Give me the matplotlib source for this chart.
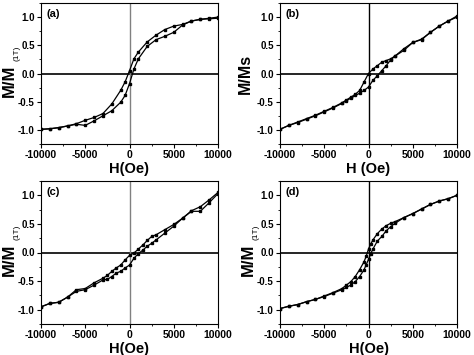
import numpy as np
import matplotlib
matplotlib.use('Agg')
import matplotlib.pyplot as plt
from matplotlib.ticker import MultipleLocator

plt.rcParams['font.family'] = ['Liberation Sans', 'DejaVu Sans']
plt.rcParams['font.weight'] = 'bold'

# field values (Oe) for the two branches
H_down = [10000, 9000, 8000, 7000, 6000, 5000, 4000, 3000, 2000, 1000, 500,
          0, -500, -1000, -2000, -3000, -4000, -5000, -6000, -7000, -8000,
          -9000, -10000]
H_up = H_down[::-1]

# (a)
a_down = [1.00, 0.98, 0.96, 0.93, 0.87, 0.84, 0.78, 0.68, 0.56, 0.38, 0.26,
          0.05, -0.15, -0.30, -0.54, -0.71, -0.78, -0.83, -0.89, -0.93,
          -0.96, -0.98, -0.99]
a_up = [-0.99, -0.98, -0.96, -0.93, -0.90, -0.92, -0.84, -0.75, -0.66,
        -0.51, -0.39, -0.18, 0.08, 0.26, 0.48, 0.60, 0.66, 0.73, 0.86, 0.93,
        0.96, 0.97, 0.98]

# (b)
H_b = [10000, 9000, 8000, 7000, 6000, 5000, 4000, 3000, 2500, 2000, 1500,
       1000, 500, 0, -500, -1000, -1500, -2000, -2500, -3000, -4000, -5000,
       -6000, -7000, -8000, -9000, -10000]
b_down = [1.02, 0.93, 0.84, 0.73, 0.60, 0.55, 0.44, 0.31, 0.26, 0.23, 0.20,
          0.14, 0.08, 0.00, -0.15, -0.30, -0.37, -0.42, -0.47, -0.52, -0.60,
          -0.67, -0.74, -0.80, -0.86, -0.92, -0.99]
b_up = [-0.99, -0.92, -0.87, -0.81, -0.75, -0.68, -0.61, -0.53, -0.48,
        -0.44, -0.39, -0.35, -0.30, -0.24, -0.12, -0.04, 0.05, 0.14, 0.24,
        0.31, 0.41, 0.55, 0.61, 0.73, 0.84, 0.93, 1.00]

# (c)
H_c = [10000, 9000, 8000, 7000, 6000, 5000, 4000, 3000, 2500, 2000, 1500,
       1000, 500, 0, -500, -1000, -1500, -2000, -2500, -3000, -4000, -5000,
       -6000, -7000, -8000, -9000, -10000]
c_down = [1.05, 0.92, 0.80, 0.73, 0.60, 0.49, 0.40, 0.31, 0.28, 0.21, 0.13,
          0.06, -0.01, -0.05, -0.13, -0.22, -0.27, -0.33, -0.40, -0.45,
          -0.53, -0.63, -0.65, -0.78, -0.87, -0.89, -0.95]
c_up = [-0.95, -0.89, -0.87, -0.78, -0.68, -0.65, -0.57, -0.48, -0.47,
        -0.42, -0.36, -0.33, -0.27, -0.22, -0.10, -0.02, 0.04, 0.11, 0.16,
        0.22, 0.34, 0.46, 0.60, 0.72, 0.72, 0.87, 1.03]

# (d)
H_d = [10000, 9000, 8000, 7000, 6000, 5000, 4000, 3000, 2500, 2000, 1500,
       1000, 500, 250, 0, -250, -500, -1000, -1500, -2000, -2500, -3000,
       -4000, -5000, -6000, -7000, -8000, -9000, -10000]
d_down = [1.00, 0.94, 0.90, 0.84, 0.76, 0.68, 0.61, 0.54, 0.51, 0.47, 0.41,
          0.33, 0.22, 0.15, 0.06, -0.06, -0.16, -0.30, -0.42, -0.51, -0.57,
          -0.63, -0.70, -0.76, -0.82, -0.86, -0.91, -0.94, -0.98]
d_up = [-0.98, -0.94, -0.91, -0.86, -0.82, -0.77, -0.71, -0.65, -0.61,
        -0.57, -0.51, -0.42, -0.30, -0.21, -0.12, -0.02, 0.06, 0.20, 0.28,
        0.38, 0.45, 0.51, 0.61, 0.68, 0.76, 0.84, 0.90, 0.94, 1.00]

panels = [
    ('(a)', H_down, a_down, H_up, a_up, '(1T)', 'H(Oe)', '#808080'),
    ('(b)', H_b, b_down, H_b[::-1], b_up, None, 'H (Oe)', 'black'),
    ('(c)', H_c, c_down, H_c[::-1], c_up, '(1T)', 'H(Oe)', '#808080'),
    ('(d)', H_d, d_down, H_d[::-1], d_up, '(1T)', 'H(Oe)', 'black'),
]

W, Hh = 474, 355
fig = plt.figure(figsize=(W / 100, Hh / 100), dpi=100)
boxes = [(41, 3, 218, 144), (280, 3, 457, 144),
         (41, 181, 218, 324), (280, 181, 457, 324)]

for (lab, x1, y1, x2, y2, sub, xlab, vcol), (l, t, r, b) in zip(panels, boxes):
    ax = fig.add_axes([l / W, 1 - b / Hh, (r - l) / W, (b - t) / Hh])
    ax.axhline(0, color='black', lw=1.2, zorder=1)
    ax.axvline(0, color=vcol, lw=1.0, zorder=1)
    ax.plot(x1, y1, '-s', color='black', lw=0.9, ms=1.8, zorder=3)
    ax.plot(x2, y2, '-s', color='black', lw=0.9, ms=1.8, zorder=3)
    ax.set_xlim(-10000, 10000)
    ax.set_ylim(-1.25, 1.25)
    ax.xaxis.set_major_locator(MultipleLocator(5000))
    ax.xaxis.set_minor_locator(MultipleLocator(2500))
    ax.yaxis.set_major_locator(MultipleLocator(0.5))
    ax.yaxis.set_minor_locator(MultipleLocator(0.25))
    ax.tick_params(which='major', direction='out', length=3, width=0.8,
                   labelsize=7.5, pad=1.5)
    ax.tick_params(which='minor', direction='out', length=1.5, width=0.6)
    ax.tick_params(axis='y', labelsize=7)
    ax.set_xticks([-10000, -5000, 0, 5000, 10000])
    ax.set_xticklabels(['-10000', '-5000', '0', '5000', '10000'])
    ax.set_yticks([-1.0, -0.5, 0.0, 0.5, 1.0])
    ax.set_yticklabels(['-1.0', '-0.5', '0.0', '0.5', '1.0'])
    for lb in ax.get_xticklabels() + ax.get_yticklabels():
        lb.set_fontweight('bold')
    for sp in ax.spines.values():
        sp.set_linewidth(0.8)
    ax.set_xlabel(xlab, fontsize=10.5, fontweight='bold', labelpad=1)
    ax.text(0.03, 0.96, lab, transform=ax.transAxes, ha='left', va='top',
            fontsize=8, fontweight='bold')

    # y label drawn by hand so the subscript sits like the original
    yc = (t + b) / 2
    if sub is None:
        fig.text((l - 35) / W, 1 - yc / Hh, 'M/Ms', rotation=90,
                 ha='center', va='center', fontsize=11.5, fontweight='bold')
    else:
        fig.text((l - 32) / W, 1 - (yc + 7) / Hh, 'M/M', rotation=90,
                 ha='center', va='center', fontsize=12, fontweight='bold')
        fig.text((l - 24) / W, 1 - (yc - 20) / Hh, sub, rotation=90,
                 ha='center', va='center', fontsize=6, fontweight='normal')

fig.savefig('out.png', dpi=100)
